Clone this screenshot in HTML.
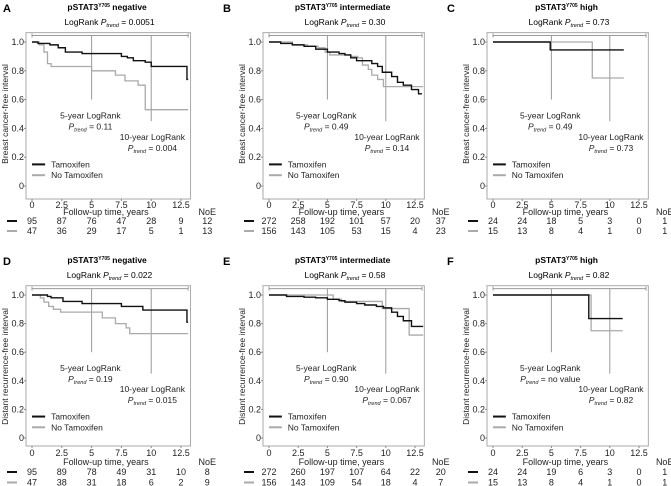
<!DOCTYPE html>
<html><head><meta charset="utf-8"><style>
body{margin:0;background:#fff;}
svg{display:block;font-family:"Liberation Sans",sans-serif;}
</style></head><body>
<svg id="fig" width="671" height="486" viewBox="0 0 671 486"></svg>
<script>
const panelLetters=["A","B","C","D","E","F"];
const panelGroups=["negative","intermediate","high","negative","intermediate","high"];
const overallP=["0.0051","0.30","0.73","0.022","0.58","0.82"];
const p5=["0.11","0.49","0.49","0.19","0.90","no value"];
const p10=["0.004","0.14","0.73","0.015","0.067","0.82"];
const yLabels=["Breast cancer-free interval","Distant recurrence-free interval"];
const xTicks=[0,2.5,5,7.5,10,12.5];
const yTicks=[0,0.2,0.4,0.6,0.8,1.0];
const tamT=[[0,0.5,1.5,2.2,2.8,4.2,7.5,8,8.5,9.5,10,13],[0,1,2,3,4,5,6,6.5,7,7.5,8.8,9.3,9.7,10.5,11,11.5,12.2,12.8],[0,4.9],[0,1.3,1.6,2.6,4.2,7.5,9.3,13],[0,1.5,3,4,5,6,6.5,7.5,8.2,9.2,9.8,10.5,11,11.5,12.2],[0,8.2]];
const tamS=[[1,0.99,0.98,0.96,0.93,0.92,0.90,0.89,0.87,0.86,0.83,0.74],[1,0.99,0.98,0.97,0.95,0.93,0.92,0.91,0.89,0.87,0.85,0.83,0.79,0.76,0.72,0.70,0.67,0.64],[1,0.945],[1,0.99,0.98,0.955,0.94,0.92,0.895,0.81],[1,0.99,0.985,0.98,0.97,0.96,0.95,0.94,0.93,0.92,0.91,0.88,0.85,0.82,0.78],[1,0.835]];
const tamEnd=[13.1,13.1,11.2,13.1,13.2,11.1];
const noT=[[0,0.6,1,1.3,1.6,5,7,7.8,8.9,9.5],[0,2,3.3,4.2,4.8,5.2,7,7.6,8,8.5,8.8,9.3,9.8],[0,8.5],[0,0.7,1,1.4,1.8,2.4,5.9,7.0,7.9,8.2],[0,5.5,6.2,9.7,12],[0,8.4]];
const noS=[[1,0.98,0.93,0.85,0.83,0.80,0.77,0.73,0.70,0.53],[1,0.98,0.97,0.96,0.93,0.91,0.90,0.89,0.84,0.81,0.77,0.74,0.69],[1,0.75],[1,0.98,0.95,0.92,0.90,0.88,0.84,0.80,0.77,0.73],[1,0.97,0.955,0.905,0.72],[1,0.75]];
const noEnd=[13.1,13.2,11.2,13.1,13.2,11.1];
const riskTam=[[95,87,76,47,28,9],[272,258,192,101,57,20],[24,24,18,5,3,0],[95,89,78,49,31,10],[272,260,197,107,64,22],[24,24,19,6,3,0]];
const riskNo=[[47,36,29,17,5,1],[156,143,105,53,15,4],[15,13,8,4,1,0],[47,38,31,18,6,2],[156,143,109,54,18,4],[15,13,8,4,1,0]];
const noeTam=[12,37,1,8,20,1];
const noeNo=[13,23,1,9,7,1];

const NS="http://www.w3.org/2000/svg";
const svg=document.getElementById('fig');
function el(tag,attrs,parent,text){const e=document.createElementNS(NS,tag);for(const k in attrs)e.setAttribute(k,attrs[k]);if(text!==undefined)e.textContent=text;(parent||svg).appendChild(e);return e;}
const colX0=[32,269,493];
const colXS=[11.92,11.68,11.68];
const rowY1=[42,295];
const rowYS=[144,143];
const rowBottom=[199,446];
const rowOff=[[6,13,22,32],[7,16,26,36.5]];

for(let i=0;i<6;i++){
  const c=i%3,r=Math.floor(i/3);
  const x0=colX0[c],xs=colXS[c],y1=rowY1[r],ys=rowYS[r];
  const X=t=>x0+t*xs, Y=v=>y1+(1-v)*ys;
  const off=rowOff[r];
  const g=el('g',{});
  
  
  const bx=x0-6, by=Y(1.065), bw=X(13.3)-bx, bh=rowBottom[r]-by;
  const bb=rowBottom[r];
  let e=el('text',{x:c==0?3:x0-46,y:y1-30,'font-size':11,'font-weight':'bold'},g,panelLetters[i]);
  
  e=el('text',{x:X(6.3),y:y1-32,'font-size':8.5,'font-weight':'bold','text-anchor':'middle'},g);
  
  el('tspan',{},e,'pSTAT3');el('tspan',{'font-size':5,dy:-3},e,'Y705');el('tspan',{dy:3},e,' '+panelGroups[i]);
  e=el('text',{x:X(6.5),y:y1-17,'font-size':8.5,'text-anchor':'middle'},g);
  
  el('tspan',{},e,'LogRank ');el('tspan',{'font-style':'italic'},e,'P');el('tspan',{'font-size':5.5,'font-style':'italic',dy:2},e,'trend');el('tspan',{dy:-2},e,' = '+overallP[i]);
  e=el('rect',{x:bx,y:by,width:bw,height:bh,fill:'none',stroke:'#aaa','stroke-width':1},g);
  
  el('path',{d:`M${X(0)},${Y(1.045)-2}v4M${X(0)},${Y(1.045)}H${X(13.1)}M${X(13.1)},${Y(1.045)-2}v4`,stroke:'#999',fill:'none','stroke-width':1},g);
  el('line',{x1:X(5),x2:X(5),y1:Y(1.045),y2:Y(0.6),stroke:'#999','stroke-width':1},g);
  el('line',{x1:X(10),x2:X(10),y1:Y(1.045),y2:Y(0.45),stroke:'#999','stroke-width':1},g);
  yTicks.forEach(v=>{el('line',{x1:bx-2,x2:bx,y1:Y(v),y2:Y(v),stroke:'#888'},g);
    const t=el('text',{x:bx-2,y:Y(v)+3,'font-size':9,'text-anchor':'end',fill:'#222'},g,v==0?'0':v.toFixed(1));});
  xTicks.forEach(t=>{el('line',{x1:X(t),x2:X(t),y1:bb,y2:bb+2,stroke:'#888'},g);
    const tt=el('text',{x:X(t),y:bb+off[0]+3,'font-size':9,'text-anchor':'middle',fill:'#222'},g,String(t));});
  e=el('text',{x:0,y:0,'font-size':8.5,'text-anchor':'middle',fill:'#222',transform:`translate(${bx-18},${Y(0.5)}) rotate(-90)`},g,yLabels[r]);
  
  e=el('text',{x:X(6.2),y:bb+off[1]+3,'font-size':9,'text-anchor':'middle',fill:'#222'},g,'Follow-up time, years');
  
  function curve(T,S,end,col,w,name){let d=`M${X(T[0])},${Y(S[0])}`;for(let k=1;k<T.length;k++){d+=`H${X(T[k])}V${Y(S[k])}`;}d+=`H${X(end)}`;
    const p=el('path',{d,fill:'none',stroke:col,'stroke-width':w},g);}
  curve(noT[i],noS[i],noEnd[i],'#aaa',1.3,'no-tamoxifen-curve');
  curve(tamT[i],tamS[i],tamEnd[i],'#111',1.4,'tamoxifen-curve');
  function ann(tx,v,lines){const a=el('text',{x:X(tx),y:Y(v),'font-size':8.5,'text-anchor':'middle',fill:'#222'},g,lines[0]);
    const b=el('text',{x:X(tx),y:Y(v)+11,'font-size':8.5,'text-anchor':'middle',fill:'#222'},g);
    el('tspan',{'font-style':'italic'},b,'P');el('tspan',{'font-size':5.5,'font-style':'italic',dy:2},b,'trend');el('tspan',{dy:-2},b,' = '+lines[1]);}
  ann(4.9,0.47,['5-year LogRank',p5[i]]);
  ann(10.1,0.32,['10-year LogRank',p10[i]]);
  [['Tamoxifen','#111'],['No Tamoxifen','#aaa']].forEach((L,k)=>{const yy=Y(0.15-k*0.075);
    el('line',{x1:X(0),x2:X(1.1),y1:yy,y2:yy,stroke:L[1],'stroke-width':2},g);
    const t=el('text',{x:X(1.6),y:yy+3,'font-size':8.5,fill:'#222'},g,L[0]);});
  const noeX=X(14.7);
  el('text',{x:noeX,y:bb+off[1]+3,'font-size':9,'text-anchor':'middle',fill:'#222'},g,'NoE');
  [[riskTam[i],noeTam[i],'#111'],[riskNo[i],noeNo[i],'#aaa']].forEach((R,k)=>{const yy=bb+off[2+k]+3;
    el('line',{x1:x0-25,x2:x0-15,y1:yy-3,y2:yy-3,stroke:R[2],'stroke-width':2},g);
    R[0].forEach((n,j)=>{const q=el('text',{x:X(xTicks[j]),y:yy,'font-size':9,'text-anchor':'middle',fill:'#222'},g,String(n));});
    el('text',{x:noeX,y:yy,'font-size':9,'text-anchor':'middle',fill:'#222'},g,String(R[1]));});
}
</script>
</body></html>
